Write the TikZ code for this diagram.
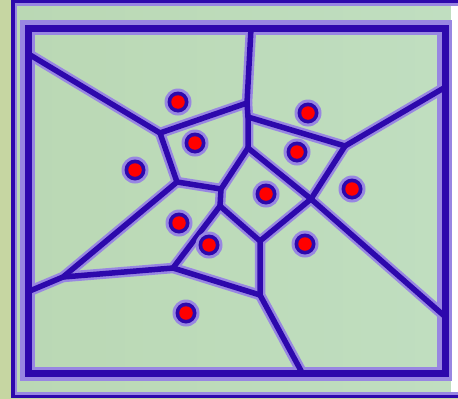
\documentclass[tikz,border=0pt]{standalone}
\definecolor{lineDark}{RGB}{45,8,172}
\definecolor{lineLight}{RGB}{152,134,226}
\definecolor{bgGreen}{RGB}{186,216,180}
\definecolor{bgGreenB}{RGB}{192,222,192}
\definecolor{bgSide}{RGB}{198,214,162}
\definecolor{dotRed}{RGB}{255,0,0}
\begin{document}
\begin{tikzpicture}[x=1pt,y=-1pt,
  halo/.style={draw=lineLight,line width=10.5pt,line cap=round,line join=round},
  core/.style={draw=lineDark,line width=5.5pt,line cap=round,line join=round},
  framehalo/.style={draw=lineLight,line width=14.5pt},
  framecore/.style={draw=lineDark,line width=7pt}]
\useasboundingbox (0,0) rectangle (458,399);
% background
\fill[bgSide] (0,0) rectangle (458,399);
\shade[left color=bgGreen,right color=bgGreenB] (15,3) rectangle (451,395);
\fill[white] (451,5) rectangle (458,393);
% outer frame
\draw[lineLight,line width=2.5pt] (470,4.5) -- (16,4.5) -- (16,393.5) -- (470,393.5);
\draw[lineDark,line width=3.5pt] (470,1.5) -- (13,1.5) -- (13,396.5) -- (470,396.5);
% vertices
\coordinate (P1) at (28.5,54);
\coordinate (V1) at (160,133);
\coordinate (V2) at (247,103);
\coordinate (T) at (251,28.5);
\coordinate (V3) at (248,117);
\coordinate (V4) at (248,148);
\coordinate (V5) at (345,146);
\coordinate (R1) at (445.5,87);
\coordinate (V6) at (311,199);
\coordinate (R2) at (445.5,317);
\coordinate (V7) at (177,182);
\coordinate (A) at (221,189);
\coordinate (B) at (220,206);
\coordinate (V8) at (63,277);
\coordinate (L2) at (28.5,291.5);
\coordinate (V9) at (173,268);
\coordinate (V10) at (260,241);
\coordinate (V11) at (260,295);
\coordinate (Bt) at (302.5,373.5);
\newcommand\vorEdges[1]{%
  \draw[#1] (P1) -- (V1) -- (V2) -- (V3) -- (V4);
  \draw[#1] (T) -- (V2);
  \draw[#1] (V3) -- (V5) -- (R1);
  \draw[#1] (V5) -- (V6) -- (R2);
  \draw[#1] (V4) -- (V6);
  \draw[#1] (V1) -- (V7) -- (A) -- (B);
  \draw[#1] (V4) -- (A);
  \draw[#1] (B) -- (V9);
  \draw[#1] (B) -- (V10) -- (V11) -- (Bt);
  \draw[#1] (V10) -- (V6);
  \draw[#1] (V7) -- (V8) -- (L2);
  \draw[#1] (V8) -- (V9) -- (V11);
}
% halos
\vorEdges{halo}
\draw[framehalo] (27.5,27.5) rectangle (444.5,374);
% cores
\vorEdges{core}
\draw[framecore] (28.5,28.5) rectangle (445.5,373.5);
% sites
\foreach \n/\p in {d1/{(178,102)},d2/{(195,143)},d3/{(308,113)},d4/{(297,152)},
  d5/{(135,170)},d6/{(266,194)},d7/{(352,189)},d8/{(179,223)},d9/{(209,245)},
  d10/{(305,244)},d11/{(186,313)}}{
  \fill[lineLight] \p circle[radius=13.5];
  \fill[lineDark] \p circle[radius=10.5];
  \node[circle,fill=dotRed,inner sep=0pt,minimum size=13.5pt] (\n) at \p {};
}
\end{tikzpicture}
\end{document}
